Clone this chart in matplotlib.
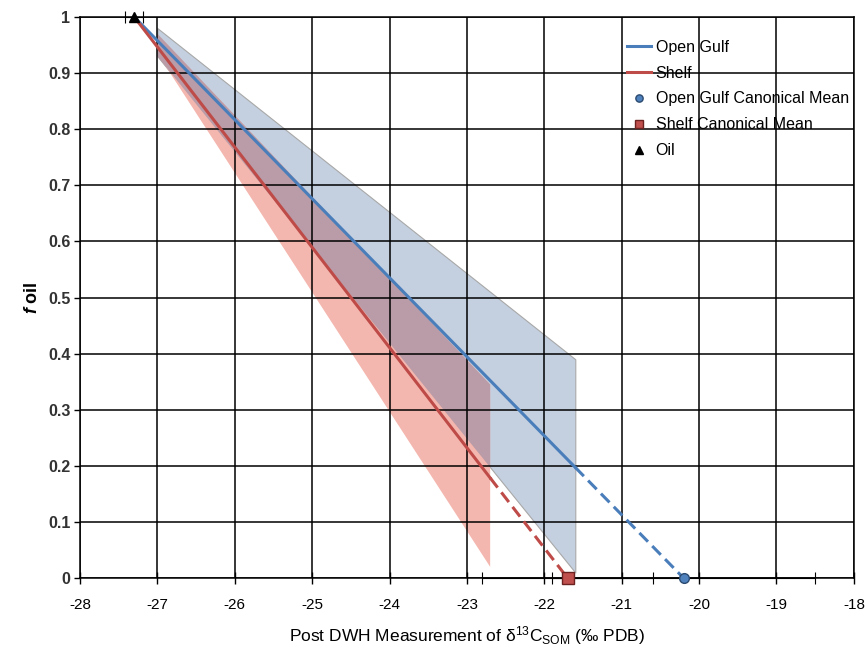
import numpy as np
import matplotlib
matplotlib.use('Agg')
import matplotlib.pyplot as plt

plt.rcParams['font.family'] = ['Liberation Sans', 'DejaVu Sans']
plt.rcParams['mathtext.fontset'] = 'custom'
plt.rcParams['mathtext.rm'] = 'Liberation Sans'
plt.rcParams['mathtext.it'] = 'Liberation Sans:italic:bold'

# end members (x = delta13C, y = f oil)
oil_x, oil_y, oil_err = -27.3, 1.0, 0.12
gulf_mean, gulf_err = -20.2, 1.7
shelf_mean, shelf_err = -21.7, 1.1

# mixing lines: solid part ends where the measurements stop, dashed to the mean
gulf_solid_end = -21.6
shelf_solid_end = -22.7

# uncertainty bands
gulf_band_x = [-27.0, -21.6]
gulf_band_upper = [0.98, 0.39]
gulf_band_lower = [0.93, 0.01]
shelf_band_x = [-27.0, -22.7]
shelf_band_upper = [0.97, 0.345]
shelf_band_lower = [0.935, 0.02]

x_ticks = np.arange(-28, -17, 1)
y_ticks = np.arange(0, 1.01, 0.1)

blue = '#4A7EBB'
red = '#BE4B48'


def line_y(x, x0, x1):
    # straight line from (x0, 1) to (x1, 0)
    return (x1 - np.asarray(x)) / (x1 - x0)


fig, ax = plt.subplots(figsize=(8.66, 6.51), dpi=100)
fig.subplots_adjust(left=0.0924, right=0.986, top=0.974, bottom=0.112)

# bands
ax.fill_between(gulf_band_x, gulf_band_lower, gulf_band_upper,
                facecolor='#C4D0E0', edgecolor='#A8A8A8', linewidth=0.8, zorder=1)
ax.fill_between(shelf_band_x, shelf_band_lower, shelf_band_upper,
                facecolor='#F4B7AF', edgecolor='none', zorder=1.1)
# overlap of the two bands
ov_lower = np.interp(shelf_band_x, gulf_band_x, gulf_band_lower)
ax.fill_between(shelf_band_x, ov_lower, shelf_band_upper,
                facecolor='#B99CA7', edgecolor='none', zorder=1.2)

# mixing lines
gx = [oil_x, gulf_solid_end]
l1, = ax.plot(gx, line_y(gx, oil_x, gulf_mean), color=blue, lw=2.2, zorder=3)
gx2 = [gulf_solid_end, gulf_mean]
ax.plot(gx2, line_y(gx2, oil_x, gulf_mean), color=blue, lw=2.2, ls=(0, (4, 2)), zorder=3)
sx = [oil_x, shelf_solid_end]
l2, = ax.plot(sx, line_y(sx, oil_x, shelf_mean), color=red, lw=2.2, zorder=3)
sx2 = [shelf_solid_end, shelf_mean]
ax.plot(sx2, line_y(sx2, oil_x, shelf_mean), color=red, lw=2.2, ls=(0, (4, 2)), zorder=3)

# end member points with error bars
eb_kw = dict(ecolor='black', elinewidth=0.8, capsize=4, capthick=0.8, zorder=4, clip_on=False)
e1 = ax.errorbar([gulf_mean], [0], xerr=[gulf_err], fmt='o', color='#4F81BD', mec='#2B4A70',
                 ms=7, **eb_kw)
e2 = ax.errorbar([shelf_mean], [0], xerr=[shelf_err], fmt='s', color='#C0504D', mec='#6B2220',
                 ms=8, **eb_kw)
e3 = ax.errorbar([oil_x], [oil_y], xerr=[oil_err], fmt='^', color='black', ms=7, **eb_kw)

ax.set_xlim(-28, -18)
ax.set_ylim(0, 1)
ax.set_xticks(x_ticks)
ax.set_yticks(y_ticks)
ax.set_xticklabels(['%d' % v for v in x_ticks])
ax.set_yticklabels(['%g' % round(v, 1) for v in y_ticks], fontweight='bold', color='#333333')
ax.tick_params(axis='x', direction='inout', length=8, width=1, labelsize=11, pad=10)
ax.tick_params(axis='y', direction='out', length=4, width=1, labelsize=11.5, pad=3)

ax.grid(True, color='black', linewidth=1.1)
ax.set_axisbelow(False)
for s in ax.spines.values():
    s.set_color('black')
    s.set_linewidth(1.1)

ax.set_xlabel(r'Post DWH Measurement of $\mathrm{\delta^{13}C_{SOM}}$ (‰ PDB)',
              fontsize=12.5, labelpad=9)
ax.set_ylabel(r'$\mathit{f}$ oil', fontsize=13, fontweight='bold', labelpad=5)

handles = [l1, l2, e1[0], e2[0], e3[0]]
labels = ['Open Gulf', 'Shelf', 'Open Gulf Canonical Mean', 'Shelf Canonical Mean', 'Oil']
ax.legend(handles, labels, loc='upper left', bbox_to_anchor=(0.688, 0.985),
          frameon=False, fontsize=11.5, handlelength=1.5, handletextpad=0.3,
          labelspacing=0.68, markerscale=0.75)

plt.savefig('out.png', dpi=100)
